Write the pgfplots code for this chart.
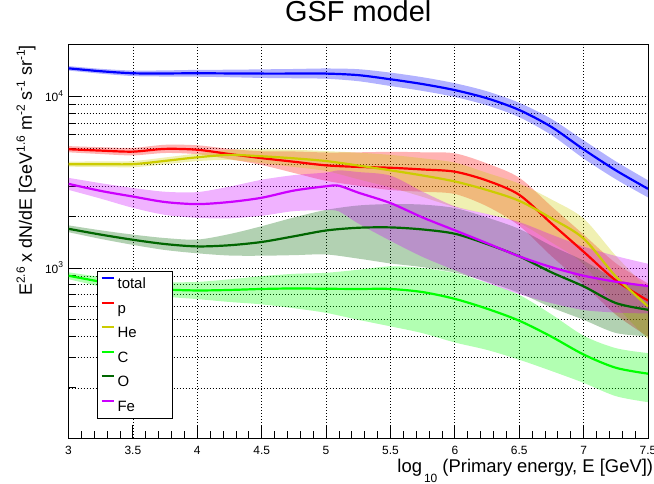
\documentclass[border=0pt]{standalone}
\usepackage{fontspec}
\setmainfont{Liberation Sans}
\usepackage{pgfplots}
\pgfplotsset{compat=1.18}
\usepackage{pgfplotstable}
\usepgfplotslibrary{fillbetween}

\definecolor{cTot}{RGB}{0,0,255}
\definecolor{cP}{RGB}{255,0,0}
\definecolor{cHe}{RGB}{204,204,0}
\definecolor{cC}{RGB}{0,255,0}
\definecolor{cO}{RGB}{0,102,0}
\definecolor{cFe}{RGB}{204,0,255}

\pgfplotstableread{
x y lo hi
3.00 14620 14190 15070
3.25 14060 13610 14520
3.50 13680 13180 14190
3.75 13650 13090 14220
4.00 13680 13060 14320
4.25 13650 12970 14350
4.50 13620 12850 14420
4.75 13620 12790 14490
5.00 13620 12710 14590
5.25 13340 12300 14450
5.50 12620 11530 13800
5.75 11830 10790 12970
6.00 10910 9950 11970
6.25 9772 8892 10740
6.50 8356 7586 9204
6.75 6653 5970 7413
7.00 4920 4355 5559
7.25 3715 3296 4188
7.50 2897 2582 3251
}\tot

\pgfplotstableread{
x y lo hi
3.00 4932 4732 5141
3.25 4842 4624 5070
3.50 4775 4540 5023
3.75 4955 4688 5236
4.00 4898 4613 5200
4.25 4624 4315 4955
4.50 4375 3990 4797
4.75 4169 3589 4786
5.00 3972 3228 4721
5.25 3890 3020 4732
5.50 3846 2851 4764
5.75 3758 2786 4732
6.00 3648 2704 4667
6.25 3236 2291 4074
6.50 2673 1766 3365
6.75 1820 1175 2291
7.00 1245 803.5 1567
7.25 847 535 1067
7.50 646 398 813
}\prot

\pgfplotstableread{
x y lo hi
3.00 4036 3900 4178
3.25 4036 3890 4188
3.50 4036 3873 4207
3.75 4217 4027 4416
4.00 4426 4207 4656
4.25 4571 4266 4898
4.50 4487 4093 4920
4.75 4365 3890 4898
5.00 4207 3681 4808
5.25 3963 3296 4710
5.50 3715 2951 4571
5.75 3467 2600 4365
6.00 3199 2265 4121
6.25 2851 2065 3589
6.50 2466 1828 3105
6.75 1950 1413 2512
7.00 1486 1052 1945
7.25 893 604 1178
7.50 597 385 752
}\hel

\pgfplotstableread{
x y lo hi
3.00 902 861 944
3.25 832 780 887
3.50 776 716 841
3.75 750 681 826
4.00 740 659 830
4.25 745 634 859
4.50 755 614 897
4.75 760 583 925
5.00 757 548 938
5.25 755 499 977
5.50 755 457 1023
5.75 724 417 1000
6.00 661 368 933
6.25 579 333 819
6.50 493 292 697
6.75 398 251 537
7.00 313 214 403
7.25 262 179 341
7.50 242 165 319
}\carb

\pgfplotstableread{
x y lo hi
3.00 1694 1618 1774
3.25 1567 1479 1660
3.50 1462 1365 1567
3.75 1380 1274 1496
4.00 1337 1219 1466
4.25 1358 1183 1578
4.50 1419 1180 1754
4.75 1531 1189 1972
5.00 1656 1200 2183
5.25 1718 1135 2317
5.50 1726 1064 2360
5.75 1679 1012 2344
6.00 1585 940 2239
6.25 1380 832 1972
6.50 1170 716 1690
6.75 944 589 1349
7.00 782 499 1104
7.25 625 418 863
7.50 571 400 780
}\oxy

\pgfplotstableread{
x y lo hi
3.00 3098 2858 3357
3.25 2818 2541 3126
3.50 2612 2244 2931
3.75 2427 2042 2786
4.00 2360 1963 2773
4.25 2427 1950 2985
4.50 2570 2018 3273
4.75 2831 2148 3483
5.00 2999 2173 3606
5.10 3020 2138 3715
5.25 2754 1820 3631
5.50 2393 1442 3459
5.75 1972 1161 2786
6.00 1660 971 2291
6.25 1396 822 2065
6.50 1170 705 1854
6.75 1012 624 1567
7.00 902 569 1334
7.25 832 550 1175
7.50 785 543 1059
}\iron

\newcommand{\sups}[1]{\raisebox{7bp}{\fontsize{12}{12}\selectfont #1}}
\newcommand{\ysup}[1]{\raisebox{5.5bp}{\fontsize{8.5}{9}\selectfont #1}}

\begin{document}
\begin{tikzpicture}
\begin{axis}[
  scale only axis, width=579.5bp, height=393bp,
  at={(0,0)}, anchor=south west,
  xmin=3, xmax=7.5, ymode=log, ymin=102, ymax=20000,
  xtick={3,3.5,4,4.5,5,5.5,6,6.5,7,7.5},
  xticklabels={3,3.5,4,4.5,5,5.5,6,6.5,7,7.5},
  minor x tick num=4,
  ytick={1000,10000},
  yticklabels={{10\ysup{3}},{10\ysup{4}}},
  minor ytick={200,300,400,500,600,700,800,900,2000,3000,4000,5000,6000,7000,8000,9000},
  tick pos=left, tick align=inside,
  major tick length=13bp, minor tick length=7bp,
  tick style={black, line width=0.8bp},
  xmajorgrids, ymajorgrids, yminorgrids, xminorgrids=false,
  grid style={black, line width=0.7bp, dash pattern=on 1bp off 2bp},
  axis line style={line width=1bp},
  xticklabel style={font=\fontsize{12}{12}\selectfont, anchor=base, inner sep=0pt, yshift=-16.3bp},
  yticklabel style={font=\fontsize{12}{12}\selectfont, anchor=base east, inner sep=0pt, xshift=-5.2bp, yshift=-5.3bp},
  title={GSF model},
  title style={font=\fontsize{29}{30}\selectfont, at={(axis description cs:0.5,1.045)}, anchor=base, inner sep=0pt},
  xlabel={log\hspace{2bp}\raisebox{-10bp}{\fontsize{12}{12}\selectfont 10} (Primary energy, E [GeV])},
  xlabel style={font=\fontsize{18.5}{20}\selectfont, at={(axis description cs:1.00915,-0.0883)}, anchor=base east, inner sep=0pt},
  ylabel={E\sups{2.6} x dN/dE [GeV\sups{1.6} m\sups{-2} s\sups{-1} sr\sups{-1}]},
  ylabel style={font=\fontsize{18}{20}\selectfont, at={(axis description cs:-0.063,1)}, anchor=base east, inner sep=0pt},
  legend image code/.code={\draw[#1] (0bp,5bp) -- (12.7bp,5bp); \path (15bp,0bp);},
  legend cell align=left,
  legend style={at={(axis description cs:0.0497,0.0501)}, anchor=south west,
    draw=black, line width=0.8bp, fill=white,
    font=\fontsize{15}{15}\selectfont,
    inner xsep=2.7bp, inner ysep=5.3bp, row sep=11bp,
    nodes={inner sep=0pt, text height=12.3bp, text depth=1.2bp}},
]
% ---- bands ----
\addplot[draw=none, smooth, forget plot, name path=totH] table[x=x,y=hi]{\tot};
\addplot[draw=none, smooth, forget plot, name path=totL] table[x=x,y=lo]{\tot};
\addplot[fill=cTot, fill opacity=0.3, draw=none, forget plot] fill between[of=totH and totL];

\addplot[draw=none, smooth, forget plot, name path=pH] table[x=x,y=hi]{\prot};
\addplot[draw=none, smooth, forget plot, name path=pL] table[x=x,y=lo]{\prot};
\addplot[fill=cP, fill opacity=0.3, draw=none, forget plot] fill between[of=pH and pL];

\addplot[draw=none, smooth, forget plot, name path=heH] table[x=x,y=hi]{\hel};
\addplot[draw=none, smooth, forget plot, name path=heL] table[x=x,y=lo]{\hel};
\addplot[fill=cHe, fill opacity=0.3, draw=none, forget plot] fill between[of=heH and heL];

\addplot[draw=none, smooth, forget plot, name path=cH] table[x=x,y=hi]{\carb};
\addplot[draw=none, smooth, forget plot, name path=cL] table[x=x,y=lo]{\carb};
\addplot[fill=cC, fill opacity=0.3, draw=none, forget plot] fill between[of=cH and cL];

\addplot[draw=none, smooth, forget plot, name path=oH] table[x=x,y=hi]{\oxy};
\addplot[draw=none, smooth, forget plot, name path=oL] table[x=x,y=lo]{\oxy};
\addplot[fill=cO, fill opacity=0.3, draw=none, forget plot] fill between[of=oH and oL];

\addplot[draw=none, smooth, forget plot, name path=feH] table[x=x,y=hi]{\iron};
\addplot[draw=none, smooth, forget plot, name path=feL] table[x=x,y=lo]{\iron};
\addplot[fill=cFe, fill opacity=0.3, draw=none, forget plot] fill between[of=feH and feL];

% ---- central lines ----
\addplot[cTot, line width=2.2bp, smooth] table[x=x,y=y]{\tot};
\addlegendentry{\makebox[52.3bp][l]{total}}
\addplot[cP, line width=2.2bp, smooth] table[x=x,y=y]{\prot};
\addlegendentry{\makebox[52.3bp][l]{p}}
\addplot[cHe, line width=2.2bp, smooth] table[x=x,y=y]{\hel};
\addlegendentry{\makebox[52.3bp][l]{He}}
\addplot[cC, line width=2.2bp, smooth] table[x=x,y=y]{\carb};
\addlegendentry{\makebox[52.3bp][l]{C}}
\addplot[cO, line width=2.2bp, smooth] table[x=x,y=y]{\oxy};
\addlegendentry{\makebox[52.3bp][l]{O}}
\addplot[cFe, line width=2.2bp, smooth] table[x=x,y=y]{\iron};
\addlegendentry{\makebox[52.3bp][l]{Fe}}
\end{axis}
\pgfresetboundingbox
\useasboundingbox (-68.5bp,-46bp) rectangle (585.5bp,438bp);
\end{tikzpicture}
\end{document}
